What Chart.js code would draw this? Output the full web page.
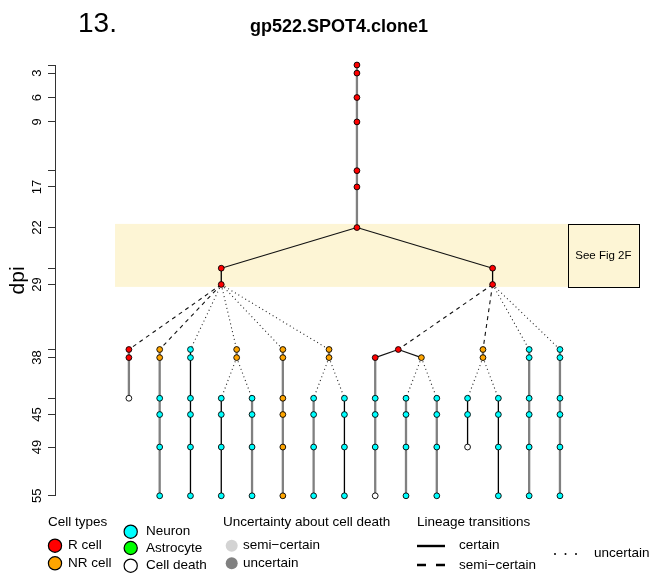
<!DOCTYPE html>
<html>
<head>
<meta charset="utf-8">
<script src="https://cdn.jsdelivr.net/npm/chart.js@4/dist/chart.umd.min.js"></script>
<style>
  html, body { margin: 0; padding: 0; background: #fff; }
  canvas { display: block; }
</style>
</head>
<body>
<canvas id="lineage" width="655" height="579"></canvas>
<script>
const FONT = "'Liberation Sans', Arial, Helvetica, sans-serif";

// Clone lineage, one entry per cell track: parent track, observation days (dpi), cell type at each day
const trackParent = [-1, 0, 0, 1, 1, 1, 1, 6, 6, 1, 1, 10, 10, 2, 13, 13, 15, 15, 2, 18, 18, 2, 2];
const trackDays = [
  [2, 3, 6, 9, 15, 17, 22],
  [27, 29],
  [27, 29],
  [37, 38, 43],
  [37, 38, 43, 45, 49, 55],
  [37, 38, 43, 45, 49, 55],
  [37, 38],
  [43, 45, 49, 55],
  [43, 45, 49, 55],
  [37, 38, 43, 45, 49, 55],
  [37, 38],
  [43, 45, 49, 55],
  [43, 45, 49, 55],
  [37],
  [38, 43, 45, 49, 55],
  [38],
  [43, 45, 49, 55],
  [43, 45, 49, 55],
  [37, 38],
  [43, 45, 49],
  [43, 45, 49, 55],
  [37, 38, 43, 45, 49, 55],
  [37, 38, 43, 45, 49, 55]
];
const trackTypes = [
  'R R R R R R R',
  'R R',
  'R R',
  'R R D',
  'NR NR N N N N',
  'N N N N N N',
  'NR NR',
  'N N N N',
  'N N N N',
  'NR NR NR NR NR NR',
  'NR NR',
  'N N N N',
  'N N N N',
  'R',
  'R N N N D',
  'NR',
  'N N N N',
  'N N N N',
  'NR NR',
  'N N D',
  'N N N N',
  'N N N N N N',
  'N N N N N N'
].map(s => s.split(' '));
// Certainty of the lineage transition into each track
const trackTransition = ['', 'certain', 'certain', 'semi', 'semi', 'uncertain', 'uncertain', 'uncertain',
  'uncertain', 'uncertain', 'uncertain', 'uncertain', 'uncertain', 'semi', 'certain', 'certain',
  'uncertain', 'uncertain', 'semi', 'uncertain', 'uncertain', 'uncertain', 'uncertain'];
// Certainty about cell death along each track
const trackDeath = ['uncertain', 'certain', 'certain', 'uncertain', 'uncertain', 'certain', 'uncertain',
  'certain', 'uncertain', 'uncertain', 'uncertain', 'uncertain', 'certain', 'certain', 'uncertain',
  'certain', 'uncertain', 'uncertain', 'uncertain', 'certain', 'certain', 'uncertain', 'uncertain'];

// Day axis ticks and the labels printed on it
const tickDays = [2, 3, 6, 9, 15, 17, 22, 27, 29, 37, 38, 43, 45, 49, 55];
const tickLabels = [3, 6, 9, 17, 22, 29, 38, 45, 49, 55];

const typeColors = { R: '#FF0000', NR: '#FFA500', N: '#00FFFF', A: '#00FF00', D: '#FFFFFF' };
const stemStyle = { uncertain: { color: '#808080', width: 2.3 }, certain: { color: '#000000', width: 1.3 } };
const linkDash = { certain: [], semi: [4, 4], uncertain: [1, 3] };

// Tree layout: leaves take consecutive columns, parents sit at the mean of their children
const children = trackParent.map(() => []);
trackParent.forEach((p, i) => { if (p >= 0) children[p].push(i); });
const trackCol = new Array(trackParent.length);
let nextLeaf = 0;
function place(i) {
  if (!children[i].length) { trackCol[i] = nextLeaf++; return; }
  children[i].forEach(place);
  trackCol[i] = children[i].reduce((s, c) => s + trackCol[c], 0) / children[i].length;
}
place(0);

const datasets = [];

// Cell observations
const nodePoints = [];
const nodeColors = [];
trackDays.forEach((days, i) => days.forEach((d, k) => {
  nodePoints.push({ x: trackCol[i], y: d });
  nodeColors.push(typeColors[trackTypes[i][k]]);
}));
datasets.push({
  data: nodePoints, showLine: false, order: 0, clip: false,
  pointRadius: 2.9, pointBackgroundColor: nodeColors,
  pointBorderColor: '#000', pointBorderWidth: 0.9
});

// Transitions between parent and daughter tracks
trackParent.forEach((p, i) => {
  if (p < 0) return;
  const pd = trackDays[p];
  datasets.push({
    data: [{ x: trackCol[p], y: pd[pd.length - 1] }, { x: trackCol[i], y: trackDays[i][0] }],
    showLine: true, pointRadius: 0, order: 1, clip: false,
    borderColor: trackTransition[i] === 'uncertain' ? '#222' : '#111',
    borderWidth: 1.1, borderDash: linkDash[trackTransition[i]]
  });
});

// Vertical stems along each track
trackDays.forEach((days, i) => {
  if (days.length < 2) return;
  const st = stemStyle[trackDeath[i]];
  datasets.push({
    data: [{ x: trackCol[i], y: days[0] }, { x: trackCol[i], y: days[days.length - 1] }],
    showLine: true, pointRadius: 0, order: 2, clip: false,
    borderColor: st.color, borderWidth: st.width
  });
});

// Shaded window with its reference box
const highlight = {
  id: 'highlight',
  beforeDatasetsDraw(chart) {
    const { ctx, scales: { x, y } } = chart;
    const top = y.getPixelForValue(21.55), bottom = y.getPixelForValue(29.3);
    const bandL = x.getPixelForValue(-0.45), bandR = x.getPixelForValue(14.26);
    const boxR = x.getPixelForValue(16.56);
    ctx.save();
    ctx.fillStyle = '#FDF5D5';
    ctx.fillRect(bandL, top, bandR - bandL, bottom - top);
    ctx.fillRect(bandR, top, boxR - bandR, bottom - top);
    ctx.strokeStyle = '#000';
    ctx.lineWidth = 1;
    ctx.strokeRect(Math.round(bandR) + 0.5, Math.round(top) + 0.5, Math.round(boxR - bandR), Math.round(bottom - top));
    ctx.fillStyle = '#000';
    ctx.font = `11.5px ${FONT}`;
    ctx.textAlign = 'center';
    ctx.textBaseline = 'middle';
    ctx.fillText('See Fig 2F', (bandR + boxR) / 2, (top + bottom) / 2);
    ctx.restore();
  }
};

// Heading and key
const annotations = {
  id: 'annotations',
  afterDraw(chart) {
    const ctx = chart.ctx;
    ctx.save();
    ctx.fillStyle = '#000';
    ctx.textBaseline = 'alphabetic';
    ctx.textAlign = 'left';
    ctx.font = `28px ${FONT}`;
    ctx.fillText('13.', 78, 31.5);
    ctx.font = `bold 18px ${FONT}`;
    ctx.fillText('gp522.SPOT4.clone1', 250, 31.5);

    ctx.font = `13.5px ${FONT}`;
    ctx.textBaseline = 'middle';
    const text = (s, x, y) => { ctx.fillStyle = '#000'; ctx.fillText(s, x, y); };
    const dot = (x, y, r, fill, stroke) => {
      ctx.beginPath();
      ctx.arc(x, y, r, 0, Math.PI * 2);
      ctx.fillStyle = fill;
      ctx.fill();
      if (stroke) { ctx.lineWidth = 1.2; ctx.strokeStyle = stroke; ctx.stroke(); }
    };

    text('Cell types', 48, 522);
    dot(55, 545.7, 6.6, typeColors.R, '#000'); text('R cell', 68, 545.7);
    dot(55, 563.3, 6.6, typeColors.NR, '#000'); text('NR cell', 68, 563.3);
    dot(130.7, 531.7, 6.6, typeColors.N, '#000'); text('Neuron', 146, 531.7);
    dot(130.7, 548, 6.6, typeColors.A, '#000'); text('Astrocyte', 146, 548);
    dot(130.7, 565.7, 6.6, typeColors.D, '#000'); text('Cell death', 146, 565.7);

    text('Uncertainty about cell death', 223, 522);
    dot(231.7, 545.7, 6, '#D3D3D3', null); text('semi\u2212certain', 243, 545.7);
    dot(231.7, 563.3, 6, '#808080', null); text('uncertain', 243, 563.3);

    text('Lineage transitions', 417, 522);
    ctx.strokeStyle = '#000';
    ctx.lineWidth = 2.4;
    ctx.beginPath(); ctx.moveTo(417, 546); ctx.lineTo(445, 546); ctx.stroke();
    text('certain', 459, 545.7);
    ctx.beginPath(); ctx.moveTo(417, 565); ctx.lineTo(426, 565); ctx.moveTo(436, 565); ctx.lineTo(445, 565); ctx.stroke();
    text('semi\u2212certain', 459, 565);
    [555, 565.5, 576].forEach(x => dot(x, 554, 1, '#000', null));
    text('uncertain', 594, 553);
    ctx.restore();
  }
};

new Chart(document.getElementById('lineage'), {
  type: 'scatter',
  data: { datasets },
  options: {
    responsive: false,
    animation: false,
    events: [],
    layout: { padding: { left: 3, right: 15, top: 65, bottom: 83.2 } },
    plugins: { legend: { display: false }, tooltip: { enabled: false }, title: { display: false } },
    scales: {
      x: { type: 'linear', display: false, min: -2.4, max: 16.6 },
      y: {
        type: 'linear', reverse: true, min: 2, max: 55,
        afterBuildTicks: s => { s.ticks = tickDays.map(v => ({ value: v })); },
        afterFit: s => { s.width = 52; },
        ticks: {
          autoSkip: false, minRotation: 90, maxRotation: 90, crossAlign: 'center', padding: 3,
          color: '#000', font: { family: FONT, size: 13 },
          callback: v => tickLabels.includes(v) ? String(v) : ''
        },
        grid: { drawOnChartArea: false, drawTicks: true, tickLength: 7, color: '#333', lineWidth: 1 },
        border: { display: true, color: '#333', width: 1 },
        title: { display: true, text: 'dpi', color: '#000', font: { family: FONT, size: 21 }, padding: { top: 3, bottom: 0 } }
      }
    }
  },
  plugins: [highlight, annotations]
});
</script>
</body>
</html>
